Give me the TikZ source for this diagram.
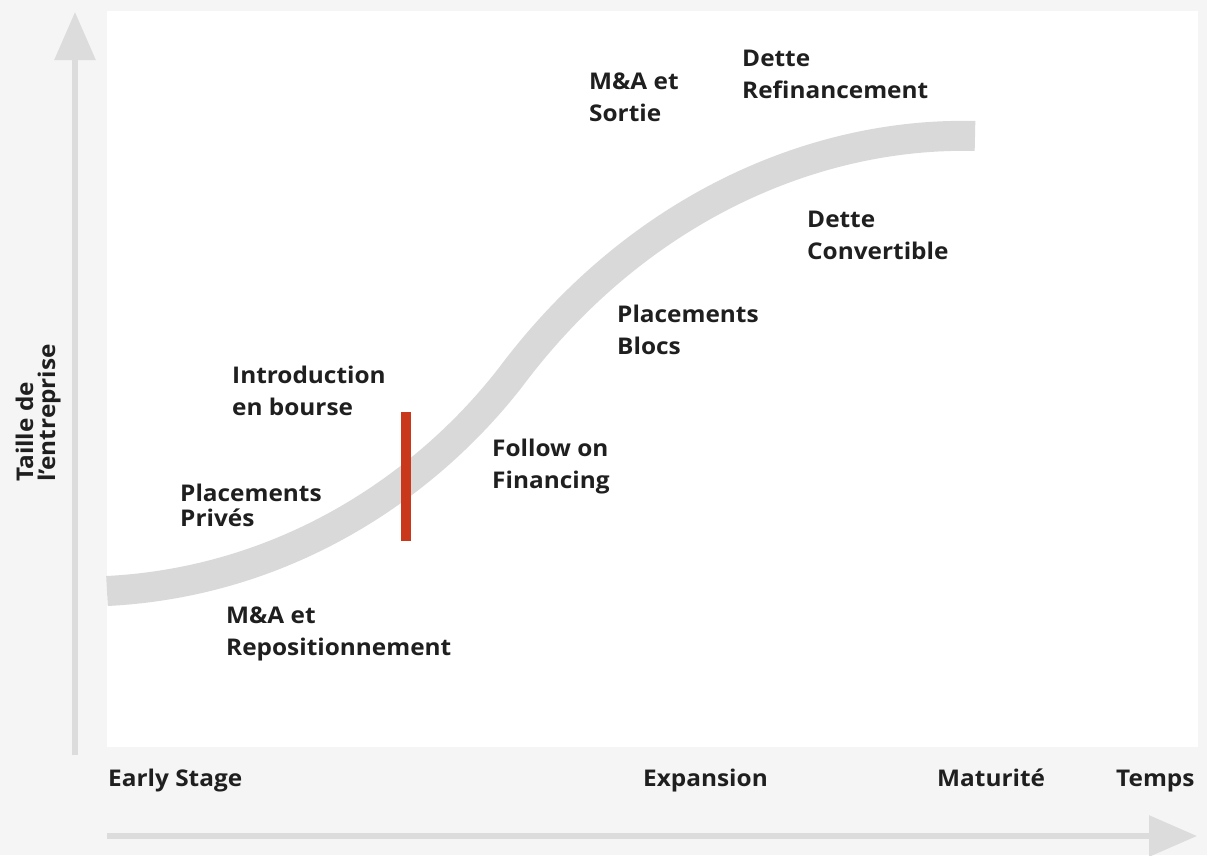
\documentclass[tikz,border=0pt]{standalone}
\usepackage{fontspec}
\setmainfont{Open Sans}[FakeStretch=1.06]
\usetikzlibrary{arrows.meta}
\definecolor{bggray}{HTML}{F5F5F5}
\definecolor{bandgray}{HTML}{D9D9D9}
\definecolor{axisgray}{HTML}{DCDCDC}
\definecolor{barred}{HTML}{C9381A}
\definecolor{txtdark}{HTML}{1F1F1F}
\begin{document}
\begin{tikzpicture}[x=1pt, y=-1pt, >={Triangle[length=48pt, width=40pt]},
    lbl/.style={anchor=base west, align=left, inner sep=0pt, text=txtdark,
        font=\bfseries\fontsize{23}{32}\selectfont},
    axis/.style={->, axisgray, line width=6pt}]
\useasboundingbox[fill=bggray] (0,0) rectangle (1207,855);
\fill[white] (107,11) rectangle (1198,747);
% axes
\coordinate (ybot) at (75,755);
\coordinate (ytop) at (75,12);
\coordinate (xleft) at (107,836);
\coordinate (xright) at (1197,836);
\draw[axis] (ybot)--(ytop);
\draw[axis] (xleft)--(xright);
% growth curve and red mark
\draw[bandgray, line width=30pt] (107,591) .. controls (285,582) and (425,487) .. (510,378)
    .. controls (640,204) and (820,132) .. (975,136);
\fill[barred] (401,412) rectangle (411,541);
% labels (anchored on the baseline of the last line)
\node[lbl] (maRepo) at (226,655) {M\&A et\\Repositionnement};
\node[lbl, font=\bfseries\fontsize{23}{25}\selectfont] (plPrives) at (180,526) {Placements\\Privés};
\node[lbl] (intro) at (232,415) {Introduction\\en bourse};
\node[lbl] (follow) at (492,488) {Follow on\\Financing};
\node[lbl] (plBlocs) at (617,354) {Placements\\Blocs};
\node[lbl] (detConv) at (807,259) {Dette\\Convertible};
\node[lbl] (maSortie) at (589,121) {M\&A et\\Sortie};
\node[lbl] (detRefi) at (742,98) {Dette\\Refinancement};
\node[lbl] (early) at (108,786) {Early Stage};
\node[lbl] (expans) at (643,786) {Expansion};
\node[lbl] (matur) at (937,786) {Maturité};
\node[lbl] (temps) at (1116,786) {Temps};
\node[lbl, rotate=90, font=\bfseries\fontsize{23}{22}\selectfont] (taille) at (55,482) {Taille de\\l’entreprise};
\end{tikzpicture}
\end{document}
